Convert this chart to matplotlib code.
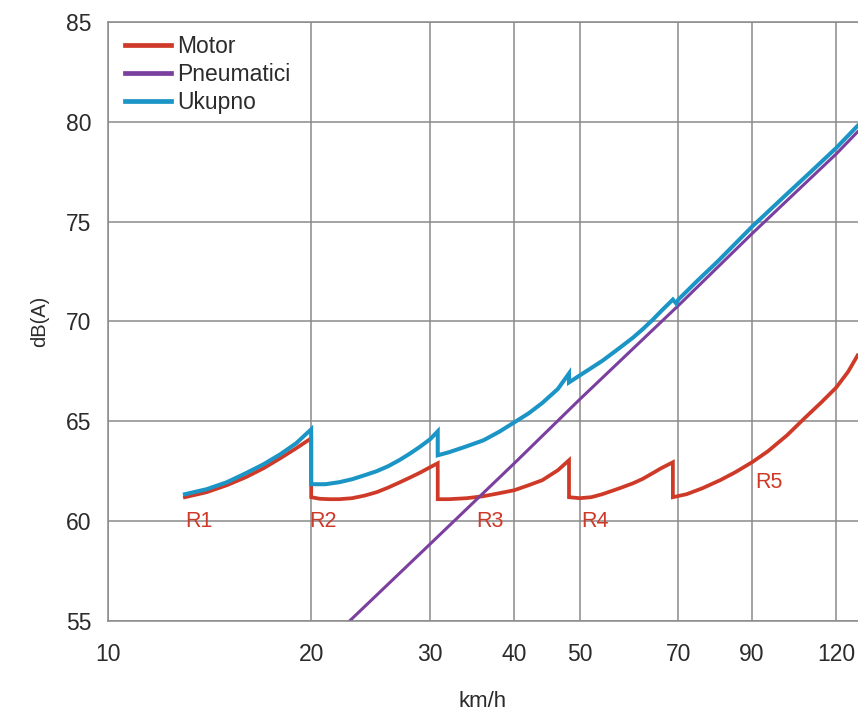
import numpy as np
import matplotlib
matplotlib.use("Agg")
import matplotlib.pyplot as plt

plt.rcParams['font.family'] = ['Liberation Sans', 'DejaVu Sans']

# Buka motora po stupnjevima prijenosa (R1..R5), pad na svakoj promjeni stupnja
brzina_motor = [13, 14, 15, 16, 17, 18, 19, 20,
                20, 20.6, 21.3, 22, 23, 24, 25, 26, 27, 28, 29, 30, 30.8,
                30.8, 32, 34, 36, 38, 40, 42, 44, 46.4, 48.2,
                48.2, 50, 52, 54, 57.3, 60, 62, 64.1, 66, 68.7,
                68.7, 72, 76, 80.7, 85, 90, 95, 101.4, 108, 114, 120, 125, 129]
db_motor = [61.2, 61.45, 61.8, 62.2, 62.65, 63.15, 63.65, 64.15,
            61.2, 61.12, 61.1, 61.1, 61.15, 61.28, 61.45, 61.68, 61.93, 62.18, 62.43, 62.7, 62.9,
            61.1, 61.1, 61.15, 61.25, 61.4, 61.55, 61.8, 62.05, 62.55, 63.05,
            61.2, 61.15, 61.2, 61.35, 61.65, 61.9, 62.12, 62.4, 62.65, 62.95,
            61.2, 61.35, 61.65, 62.05, 62.45, 62.95, 63.5, 64.3, 65.2, 65.95, 66.7, 67.5, 68.3]

# Buka pneumatika
brzina_pneu = [22.8, 30, 40, 50, 70, 90, 120, 129]
db_pneu = [55.0, 58.85, 62.9, 66.1, 70.8, 74.4, 78.4, 79.5]

# Ukupna buka
brzina_ukupno = [13, 14, 15, 16, 17, 18, 19, 20,
                 20, 21, 22, 23, 24, 25, 26, 27, 28, 29, 30, 30.8,
                 30.8, 32, 34, 36, 38, 40, 42, 44, 46.4, 48.2,
                 48.2, 50, 52, 54, 57.3, 60, 62, 64.1, 66, 68.7,
                 69.5, 70, 75, 80, 90, 100, 110, 120, 129]
db_ukupno = [61.35, 61.6, 61.95, 62.4, 62.85, 63.35, 63.9, 64.6,
             61.85, 61.85, 61.95, 62.1, 62.3, 62.5, 62.75, 63.05, 63.38, 63.73, 64.1, 64.5,
             63.3, 63.45, 63.75, 64.05, 64.48, 64.95, 65.4, 65.92, 66.62, 67.4,
             66.95, 67.3, 67.67, 68.03, 68.68, 69.2, 69.62, 70.08, 70.52, 71.1,
             70.9, 71.1, 72.1, 73.0, 74.75, 76.2, 77.5, 78.7, 79.8]

x_oznake = [10, 20, 30, 40, 50, 70, 90, 120]
y_oznake = [55, 60, 65, 70, 75, 80, 85]

stupnjevi = ['R1', 'R2', 'R3', 'R4', 'R5']
stupnjevi_x = [13.0, 19.9, 35.1, 50.2, 90.9]
stupnjevi_y = [60.0, 60.0, 60.0, 60.0, 61.95]

crvena = '#cf3a28'
ljubicasta = '#7b3f9f'
plava = '#1a95c6'
siva = '#8a8a8a'
tekst = '#2b2b2b'

fig = plt.figure(figsize=(8.58, 7.15), dpi=100)
ax = fig.add_axes([0.1259, 0.1315, 0.8741, 0.8377])

ax.plot(brzina_motor, db_motor, color=crvena, lw=2.7, label='Motor', solid_joinstyle='miter')
ax.plot(brzina_pneu, db_pneu, color=ljubicasta, lw=2.2, label='Pneumatici')
ax.plot(brzina_ukupno, db_ukupno, color=plava, lw=2.9, label='Ukupno', solid_joinstyle='miter')

for t, xv, yv in zip(stupnjevi, stupnjevi_x, stupnjevi_y):
    ax.text(xv, yv, t, color=crvena, fontsize=15.5, ha='left', va='center')

ax.set_xscale('log')
ax.set_xlim(10, 129.2)
ax.set_ylim(55, 85)
ax.set_xticks(x_oznake)
ax.set_xticklabels([str(v) for v in x_oznake])
ax.xaxis.set_minor_locator(matplotlib.ticker.NullLocator())
ax.set_yticks(y_oznake)
ax.tick_params(length=0, labelsize=16.5, labelcolor=tekst)
ax.tick_params(axis='x', pad=16)
ax.tick_params(axis='y', pad=12)

ax.grid(True, color=siva, lw=1.1)
ax.set_axisbelow(True)
for s in ['left', 'bottom', 'top']:
    ax.spines[s].set_color(siva)
    ax.spines[s].set_linewidth(1.1)
ax.spines['right'].set_visible(False)

ax.set_xlabel('km/h', fontsize=16, color=tekst, labelpad=18)
ax.set_ylabel('dB(A)', fontsize=14.5, color=tekst, labelpad=12)

leg = ax.legend(loc='upper left', bbox_to_anchor=(0.0055, 1), frameon=False, fontsize=16.5,
                handlelength=2.0, handletextpad=0.25, labelspacing=0.22,
                borderaxespad=0.0, borderpad=0.58)
for t in leg.get_texts():
    t.set_color(tekst)
for h in leg.get_lines():
    h.set_linewidth(3.4)

fig.savefig('out.png', dpi=100)
